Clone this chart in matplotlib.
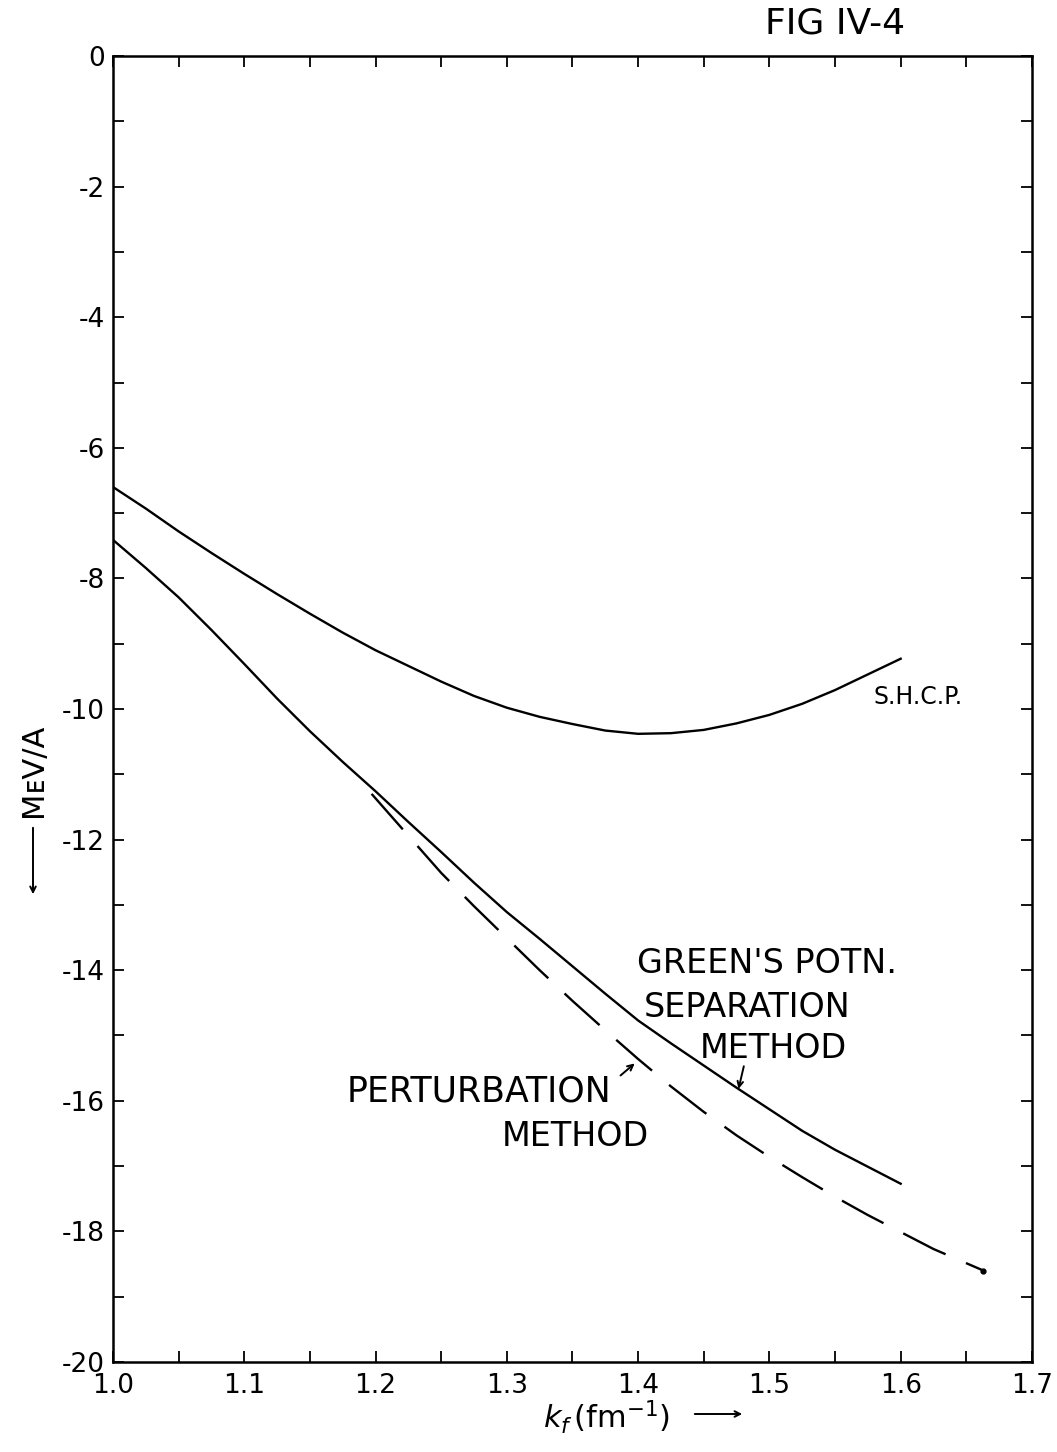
import matplotlib
matplotlib.use("Agg")
import matplotlib.pyplot as plt
from matplotlib.ticker import MultipleLocator

plt.rcParams["font.family"] = ["DejaVu Sans"]
plt.rcParams["axes.unicode_minus"] = False
plt.rcParams["lines.scale_dashes"] = False

# values
kf = [1.0, 1.025, 1.05, 1.075, 1.1, 1.125, 1.15, 1.175, 1.2, 1.225, 1.25, 1.275, 1.3,
      1.325, 1.35, 1.375, 1.4, 1.425, 1.45, 1.475, 1.5, 1.525, 1.55, 1.575, 1.6]
shcp = [-6.60, -6.93, -7.28, -7.61, -7.93, -8.24, -8.54, -8.83, -9.10, -9.34, -9.58, -9.80, -9.98,
        -10.12, -10.23, -10.33, -10.38, -10.37, -10.32, -10.22, -10.09, -9.92, -9.71, -9.47, -9.23]
greens = [-7.41, -7.84, -8.29, -8.79, -9.31, -9.84, -10.34, -10.81, -11.26, -11.73, -12.19, -12.66, -13.11,
          -13.52, -13.94, -14.36, -14.77, -15.12, -15.46, -15.80, -16.13, -16.46, -16.75, -17.01, -17.27]

kf_pert = [1.197, 1.225, 1.25, 1.275, 1.3, 1.325, 1.35, 1.375, 1.4, 1.425, 1.45, 1.475,
           1.5, 1.525, 1.55, 1.575, 1.6, 1.625, 1.663]
pert = [-11.30, -11.94, -12.51, -13.02, -13.51, -14.00, -14.47, -14.92, -15.36, -15.78, -16.17, -16.53,
        -16.86, -17.17, -17.47, -17.75, -18.01, -18.27, -18.60]

xticks = [1.0, 1.1, 1.2, 1.3, 1.4, 1.5, 1.6, 1.7]
xticklabels = ["1.0", "1.1", "1.2", "1.3", "1.4", "1.5", "1.6", "1.7"]
yticks = [0, -2, -4, -6, -8, -10, -12, -14, -16, -18, -20]

fig = plt.figure(figsize=(10.57, 14.52), dpi=100)
ax = fig.add_axes([0.1069, 0.062, 0.8694, 0.8994])

ax.plot(kf, shcp, color="black", lw=1.7)
ax.plot(kf, greens, color="black", lw=1.7)
ax.plot(kf_pert, pert, color="black", lw=1.7, dashes=[34, 16])
ax.plot(kf_pert[-1], pert[-1], "o", color="black", ms=3.5)

ax.set_xlim(1.0, 1.7)
ax.set_ylim(-20, 0)
ax.set_xticks(xticks)
ax.set_xticklabels(xticklabels)
ax.set_yticks(yticks)
ax.set_yticklabels([str(v) for v in yticks])
ax.xaxis.set_minor_locator(MultipleLocator(0.05))
ax.yaxis.set_minor_locator(MultipleLocator(1))
ax.tick_params(which="both", direction="in", top=True, right=True,
               length=8, width=1.3, labelsize=19)
ax.tick_params(axis="x", pad=8)
ax.tick_params(axis="y", pad=6)
for s in ax.spines.values():
    s.set_linewidth(1.8)

# curve labels
tk = dict(fontsize=24, color="black", va="baseline")
ax.text(1.579, -9.92, "S.H.C.P.", fontsize=17, color="black", va="baseline")
ax.text(1.399, -14.05, "GREEN'S POTN.", **tk)
ax.text(1.404, -14.72, "SEPARATION", **tk)
ax.text(1.447, -15.35, "METHOD", **tk)
ax.text(1.178, -16.01, "PERTURBATION", fontsize=25, color="black", va="baseline")
ax.text(1.296, -16.70, "METHOD", **tk)

ax.annotate("", xy=(1.476, -15.86), xytext=(1.481, -15.43),
            arrowprops=dict(arrowstyle="->", color="black", lw=1.4))
ax.annotate("", xy=(1.399, -15.40), xytext=(1.385, -15.64),
            arrowprops=dict(arrowstyle="->", color="black", lw=1.4))

# axis labels, hand-drawn style with arrows
fig.text(765 / 1057, 1 - 34 / 1452, "FIG IV-4", fontsize=26, va="baseline")
fig.text(543 / 1057, 1 - 1428 / 1452, r"$k_f\,(\mathrm{fm}^{-1})$", fontsize=22,
         va="baseline", ha="left")
ax.annotate("", xy=(745 / 1057, 1 - 1414 / 1452), xytext=(692 / 1057, 1 - 1414 / 1452),
            xycoords="figure fraction", textcoords="figure fraction",
            arrowprops=dict(arrowstyle="->", color="black", lw=1.4))
fig.text(33 / 1057, 1 - 770 / 1452, "MᴇV/A", fontsize=22, rotation=90,
         ha="center", va="center")
ax.annotate("", xy=(33 / 1057, 1 - 897 / 1452), xytext=(33 / 1057, 1 - 825 / 1452),
            xycoords="figure fraction", textcoords="figure fraction",
            arrowprops=dict(arrowstyle="->", color="black", lw=1.4))

fig.savefig("out.png", dpi=100)
